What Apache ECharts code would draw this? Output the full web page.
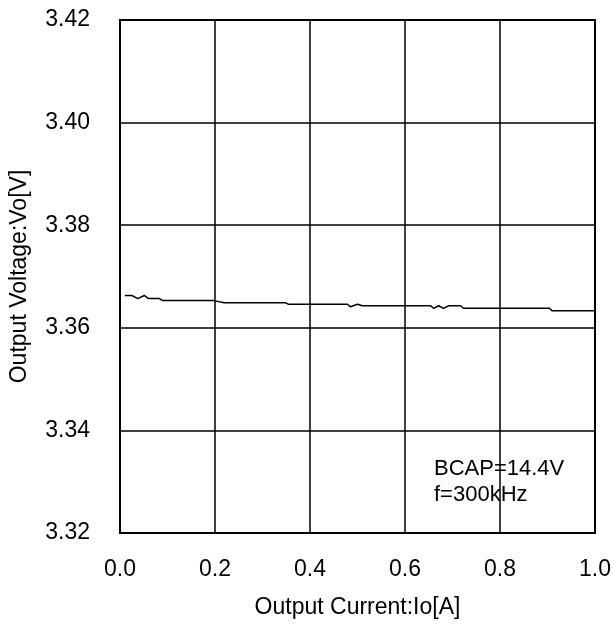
<!DOCTYPE html>
<html>
<head>
<meta charset="utf-8">
<script src="https://cdn.jsdelivr.net/npm/echarts@6/dist/echarts.min.js"></script>
<style>
html,body{margin:0;padding:0;background:#fff;}
#chart{width:614px;height:631px;}
</style>
</head>
<body>
<div id="chart"></div>
<script>
// Output current [A]
var currents = [0.010, 0.025, 0.0375, 0.051, 0.060, 0.083, 0.090, 0.198, 0.219, 0.348, 0.354, 0.479, 0.485, 0.494, 0.500, 0.510, 0.654, 0.660, 0.671, 0.681, 0.692, 0.717, 0.723, 0.904, 0.910, 1.000];
// Output voltage [V]
var voltages = [3.3663, 3.3663, 3.3657, 3.3663, 3.3657, 3.3657, 3.3653, 3.3653, 3.3649, 3.3649, 3.3646, 3.3646, 3.3641, 3.3644, 3.3646, 3.3643, 3.3643, 3.3638, 3.3643, 3.3638, 3.3643, 3.3643, 3.3638, 3.3638, 3.3633, 3.3633];
var xTicks = ['0.0', '0.2', '0.4', '0.6', '0.8', '1.0'];
var yTicks = ['3.32', '3.34', '3.36', '3.38', '3.40', '3.42'];
var annotation = ['BCAP=14.4V', 'f=300kHz'];

var pts = currents.map(function (c, i) { return [c, voltages[i]]; });
var FONT = '"Liberation Sans", Arial, sans-serif';
var chart = echarts.init(document.getElementById('chart'), null, {renderer: 'canvas'});
chart.setOption({
  animation: false,
  backgroundColor: '#fff',
  grid: {left: 118, top: 20, width: 480, height: 513, show: true, borderColor: '#000', borderWidth: 2, backgroundColor: 'transparent', containLabel: false},
  xAxis: {
    type: 'value', min: 0, max: 1, interval: 0.2,
    name: 'Output Current:Io[A]', nameLocation: 'middle', nameGap: 63,
    nameTextStyle: {fontFamily: FONT, fontSize: 23, color: '#000'},
    axisLine: {show: true, lineStyle: {color: '#000', width: 2}},
    axisTick: {show: false},
    axisLabel: {fontFamily: FONT, fontSize: 23, color: '#000', margin: 25,
      formatter: function (v) { return xTicks[Math.round(v / 0.2)]; }},
    splitLine: {show: true, lineStyle: {color: '#000', width: 1.5}}
  },
  yAxis: {
    type: 'value', min: 3.32, max: 3.42, interval: 0.02,
    name: 'Output Voltage:Vo[V]', nameLocation: 'middle', nameGap: 89, nameRotate: 90,
    nameTextStyle: {fontFamily: FONT, fontSize: 23, color: '#000'},
    axisLine: {show: true, lineStyle: {color: '#000', width: 2}},
    axisTick: {show: false},
    axisLabel: {fontFamily: FONT, fontSize: 23, color: '#000', margin: 30,
      formatter: function (v) { return yTicks[Math.round((v - 3.32) / 0.02)]; }},
    splitLine: {show: true, lineStyle: {color: '#000', width: 1.5}}
  },
  series: [{
    type: 'line', data: pts, symbol: 'none', smooth: false,
    lineStyle: {color: '#000', width: 1.5}, z: 3
  }],
  graphic: [{
    type: 'group', left: 424, top: 447, z: 100,
    children: [
      {type: 'rect', shape: {x: 0, y: 0, width: 140, height: 70}, style: {fill: '#fff'}},
      {type: 'text', left: 10, top: 9, style: {text: annotation.join('\n'), font: '22px ' + FONT, fill: '#000', lineHeight: 26}}
    ]
  }]
});
</script>
</body>
</html>
